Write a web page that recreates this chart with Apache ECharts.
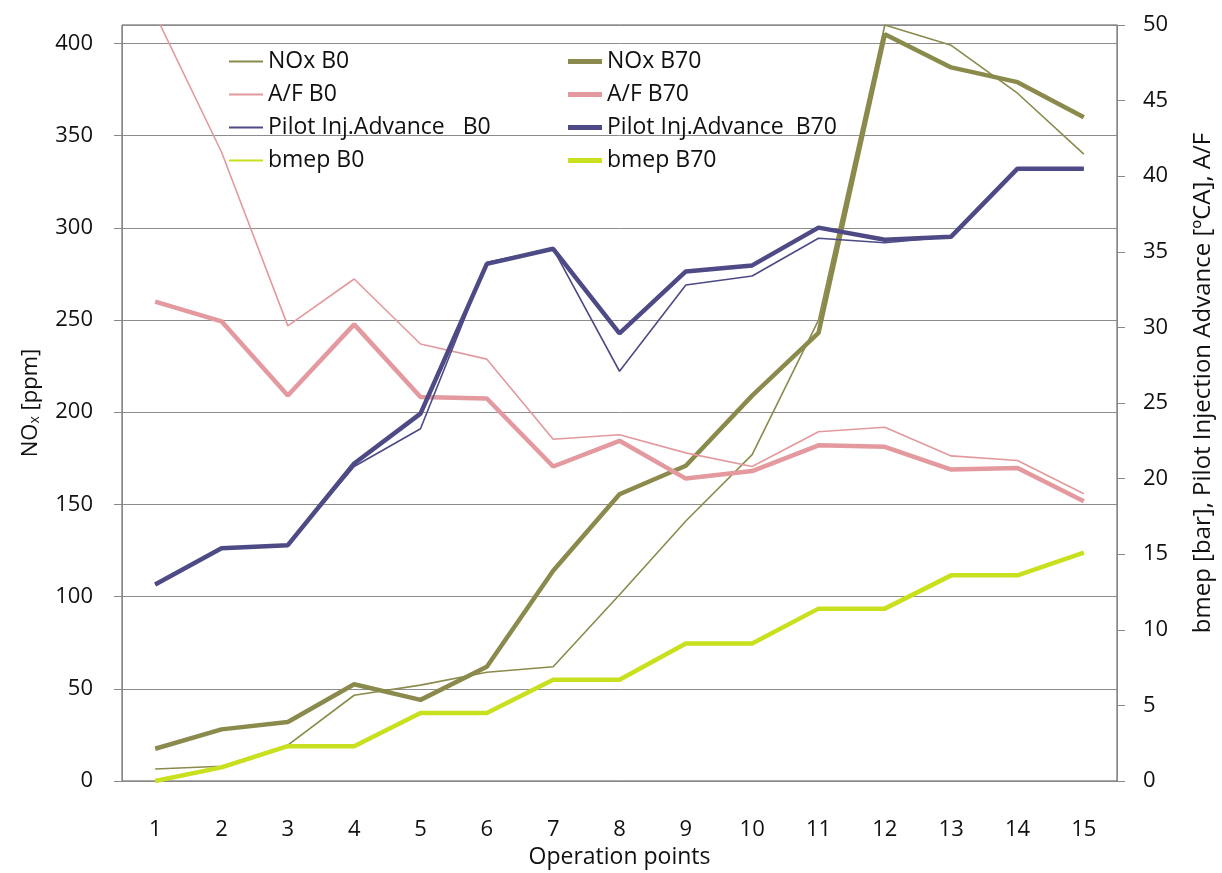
<!DOCTYPE html>
<html>
<head>
<meta charset="utf-8">
<script src="https://cdn.jsdelivr.net/npm/echarts@6/dist/echarts.min.js"></script>
<style>
  html, body { margin: 0; padding: 0; background: #fff; }
  #chart { width: 1222px; height: 873px; }
</style>
</head>
<body>
<div id="chart"></div>
<script>
// Operation points on the x axis
const categories = ['1','2','3','4','5','6','7','8','9','10','11','12','13','14','15'];

// NOx [ppm] (left axis)
const noxB0  = [6.5, 8, 19.5, 46.5, 52, 59, 62, 101, 141, 177, 250, 410, 399, 373, 340];
const noxB70 = [17.5, 28, 32, 52.5, 44, 62, 114, 155.5, 171, 209, 243, 405, 387, 379, 360];

// A/F (right axis)
const afB0  = [50.7, 41.6, 30.1, 33.2, 28.9, 27.9, 22.6, 22.9, 21.7, 20.8, 23.1, 23.4, 21.5, 21.2, 19.0];
const afB70 = [31.7, 30.4, 25.5, 30.2, 25.4, 25.3, 20.8, 22.5, 20.0, 20.5, 22.2, 22.1, 20.6, 20.7, 18.5];

// Pilot injection advance [ºCA] (right axis)
const pilotB0  = [13.0, 15.4, 15.6, 20.8, 23.3, 34.3, 35.2, 27.1, 32.8, 33.4, 35.9, 35.6, 36.0, 40.5, 40.5];
const pilotB70 = [13.0, 15.4, 15.6, 21.0, 24.3, 34.2, 35.2, 29.6, 33.7, 34.1, 36.6, 35.8, 36.0, 40.5, 40.5];

// bmep [bar] (right axis)
const bmepB0  = [0.0, 0.9, 2.3, 2.3, 4.5, 4.5, 6.7, 6.7, 9.1, 9.1, 11.4, 11.4, 13.6, 13.6, 15.1];
const bmepB70 = [0.0, 0.9, 2.3, 2.3, 4.5, 4.5, 6.7, 6.7, 9.1, 9.1, 11.4, 11.4, 13.6, 13.6, 15.1];

// Legend entries, one column per fuel
const legendB0  = ['NOx B0', 'A/F B0', 'Pilot Inj.Advance   B0', 'bmep B0'];
const legendB70 = ['NOx B70', 'A/F B70', 'Pilot Inj.Advance  B70', 'bmep B70'];

const FONT = "'Open Sans', 'Noto Sans', sans-serif";
const C_NOX = '#8a8a4c', C_AF = '#e3999e', C_PILOT = '#4e4a86', C_BMEP = '#c8e01e';

function line(name, data, color, width, yAxisIndex) {
  return {
    name, type: 'line', data, yAxisIndex,
    symbol: 'none', smooth: false,
    lineStyle: { color, width },
    itemStyle: { color },
    emphasis: { disabled: true }
  };
}

const chart = echarts.init(document.getElementById('chart'), null, { renderer: 'canvas' });
const legendBase = {
  orient: 'vertical', top: 45, itemWidth: 34, itemGap: 10,
  icon: 'rect', selectedMode: false,
  textStyle: { fontFamily: FONT, fontSize: 23, color: '#111' }
};
chart.setOption({
  animation: false,
  backgroundColor: '#fff',
  grid: {
    left: 122, right: 105, top: 25, bottom: 92,
    containLabel: false, outerBoundsMode: 'none',
    show: true, borderColor: '#555', borderWidth: 1
  },
  legend: [
    Object.assign({}, legendBase, { left: 224, itemHeight: 2, data: legendB0 }),
    Object.assign({}, legendBase, { left: 563, itemHeight: 5, data: legendB70 })
  ],
  xAxis: {
    type: 'category', data: categories, boundaryGap: true,
    name: 'Operation points', nameLocation: 'middle', nameGap: 64,
    nameTextStyle: { fontFamily: FONT, fontSize: 23, color: '#111' },
    axisLine: { lineStyle: { color: '#888', width: 1 } },
    axisTick: { alignWithLabel: true, length: 9, lineStyle: { color: '#888' } },
    axisLabel: { fontFamily: FONT, fontSize: 22, color: '#111', margin: 38 }
  },
  yAxis: [
    {
      type: 'value', min: 0, max: 410, interval: 50, position: 'left',
      name: 'NO{sub|x} [ppm]', nameLocation: 'middle', nameGap: 80, nameRotate: 90,
      nameTextStyle: {
        fontFamily: FONT, fontSize: 22, color: '#111',
        rich: { sub: { fontFamily: FONT, fontSize: 14, color: '#111', verticalAlign: 'bottom', padding: [9, 0, 0, 0] } }
      },
      axisLine: { show: true, lineStyle: { color: '#888' } },
      axisTick: { show: true, length: 8, lineStyle: { color: '#888' } },
      axisLabel: { fontFamily: FONT, fontSize: 22, color: '#111', margin: 29, showMaxLabel: false },
      splitLine: { show: true, lineStyle: { color: '#8c8c8c', width: 1 } }
    },
    {
      type: 'value', min: 0, max: 50, interval: 5, position: 'right',
      name: 'bmep [bar], Pilot Injection Advance [ºCA], A/F', nameLocation: 'middle', nameGap: 74, nameRotate: 90,
      nameTextStyle: { fontFamily: FONT, fontSize: 24, color: '#111', padding: [0, 0, 0, 40] },
      axisLine: { show: true, lineStyle: { color: '#888' } },
      axisTick: { show: true, length: 8, lineStyle: { color: '#888' } },
      axisLabel: { fontFamily: FONT, fontSize: 22, color: '#111', margin: 26 },
      splitLine: { show: false }
    }
  ],
  series: [
    line(legendB0[0], noxB0, C_NOX, 1.6, 0),
    line(legendB70[0], noxB70, C_NOX, 4.5, 0),
    line(legendB0[1], afB0, C_AF, 1.6, 1),
    line(legendB70[1], afB70, C_AF, 4.5, 1),
    line(legendB0[2], pilotB0, C_PILOT, 1.6, 1),
    line(legendB70[2], pilotB70, C_PILOT, 4.5, 1),
    line(legendB0[3], bmepB0, C_BMEP, 1.6, 1),
    line(legendB70[3], bmepB70, C_BMEP, 4.5, 1)
  ]
});
</script>
</body>
</html>
